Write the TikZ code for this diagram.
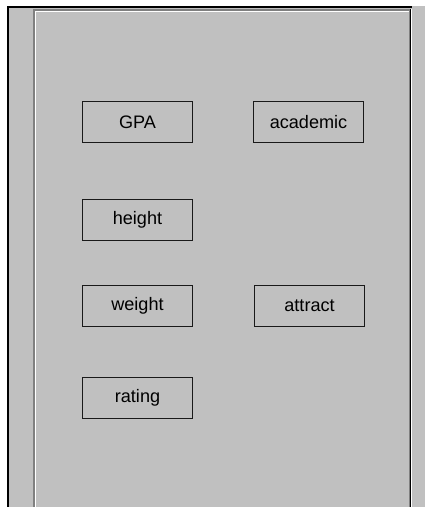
\documentclass[tikz,border=0pt]{standalone}
\usepackage{fontspec}
\setmainfont{Liberation Sans}
\usepackage{tikz}
\usetikzlibrary{positioning}
\usepackage{xcolor}
\definecolor{panelgrey}{HTML}{C0C0C0}
\definecolor{edgegrey}{HTML}{808080}

\begin{document}
\begin{tikzpicture}[x=0.02cm, y=-0.02cm, every node/.style={font=\fontsize{10.3}{12}\selectfont}]
\tikzstyle{varbox}=[draw=black!90, line width=0.6pt, minimum width=2.2cm, minimum height=0.82cm, inner sep=0pt, align=center]
\useasboundingbox (0,0) rectangle (425,507);
% window frame
\fill[white] (0,0) rectangle (425,507);
\fill[panelgrey] (7,6) rectangle (425,507);
\draw[line width=0.04cm] (8,507) -- (8,7) -- (412,7);
\draw[edgegrey, line width=0.04cm] (34,507) -- (34,10) -- (410,10);
\draw[white, line width=0.02cm] (35.5,507) -- (35.5,11.5) -- (409,11.5);
\draw[edgegrey, line width=0.02cm] (409.5,11) -- (409.5,507);
\draw[black, line width=0.02cm] (410.5,9) -- (410.5,507);
\draw[white, line width=0.02cm] (411.5,9) -- (411.5,507);
% variables
\node[varbox] (gpa) at (137.5,122) {GPA};
\node[varbox, right=1.2cm of gpa] (academic) {academic};
\node[varbox, below=1.12cm of gpa] (height) {height};
\node[varbox, below=0.88cm of height] (weight) {weight};
\node[varbox, right=1.22cm of weight] (attract) {attract};
\node[varbox, below=1.0cm of weight] (rating) {rating};
\end{tikzpicture}
\end{document}
